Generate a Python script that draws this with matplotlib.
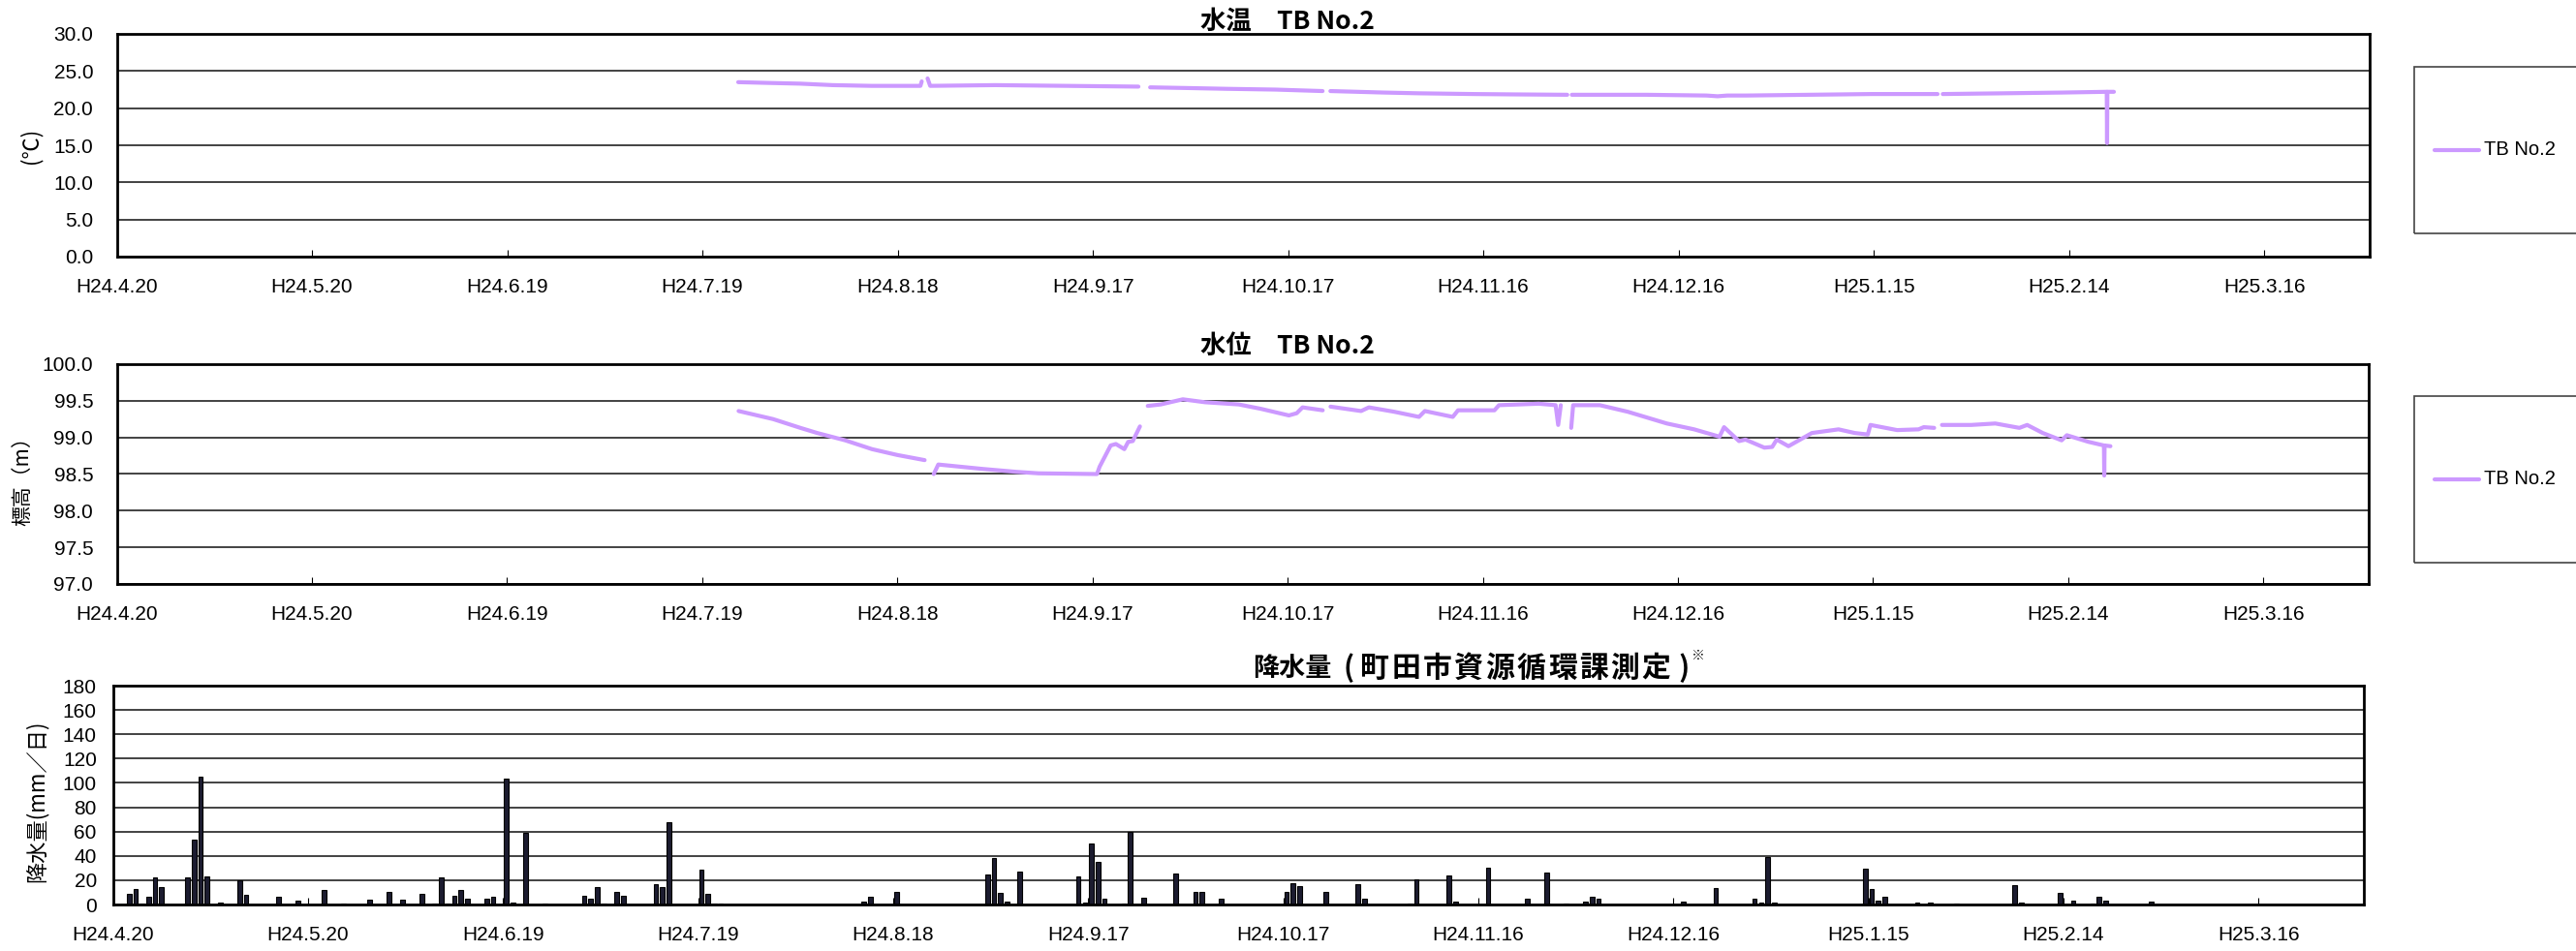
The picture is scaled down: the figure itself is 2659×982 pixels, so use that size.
import numpy as np
import matplotlib
matplotlib.use("Agg")
import matplotlib.pyplot as plt
from matplotlib.patches import Rectangle
from matplotlib.lines import Line2D

W, H = 2659, 982
nan = np.nan

# x axis: days counted from H24.4.20 (2012-04-20)
tick_days = [0, 30, 60, 90, 120, 150, 180, 210, 240, 270, 300, 330]
tick_labels = ["H24.4.20", "H24.5.20", "H24.6.19", "H24.7.19", "H24.8.18", "H24.9.17",
               "H24.10.17", "H24.11.16", "H24.12.16", "H25.1.15", "H25.2.14", "H25.3.16"]
x_end = 346.2

# water temperature TB No.2 (deg C), nan = missing record
temp_day = [95.5, 100, 105, 110, 116, 123.5, 123.7, nan, 124.6, 125.0, 135, 146, 157, nan,
            158.8, 165, 170.7, 178, 185.3, nan, 186.5, 194.7, 200, 208.4, 215, 222.9, nan,
            223.6, 235, 244.3, 246, 247.5, 250.4, 260, 269.6, 279.8, nan,
            280.6, 290, 299, 305.8, 305.85, 305.9, 306.9]
temp_val = [23.5, 23.4, 23.3, 23.1, 23.0, 23.0, 23.6, nan, 24.0, 23.0, 23.1, 23.0, 22.9, nan,
            22.8, 22.7, 22.6, 22.5, 22.3, nan, 22.3, 22.1, 22.0, 21.9, 21.85, 21.8, nan,
            21.8, 21.8, 21.7, 21.6, 21.7, 21.7, 21.8, 21.9, 21.9, nan,
            21.9, 22.0, 22.1, 22.2, 15.3, 22.2, 22.2]

# groundwater level TB No.2 (m above sea level)
level_day = [95.6, 100.9, 105.1, 107.7, 112, 116.1, 120, 124.2, nan,
             125.6, 126.3, 133.1, 138.3, 141.7, 150.7, 151.1, 152.8, 153.6, 154.9, 155.5, 156.2, 157.3, nan,
             158.5, 160.5, 163.9, 167.3, 172.5, 175.9, 180.2, 181.4, 182.3, 185.4, nan,
             186.6, 191.3, 192.5, 196.4, 200.2, 201.1, 205.4, 206.2, 211.8, 212.5, 218.6,
             221.2, 221.6, 222.0, nan,
             223.6, 223.9, 228.0, 232.3, 238.3, 242.5, 246.4, 247.1, 249.4, 250.4, 253.3, 254.5,
             255.2, 257.0, 260.6, 264.7, 267.2, 269.2, 269.6, 273.7, 277.0, 277.8, 279.4, nan,
             280.6, 285.1, 288.8, 292.5, 293.7, 296.1, 299.0, 299.8, 303.1, 305.5, 305.55, 305.6, 306.5]
level_val = [99.36, 99.25, 99.13, 99.06, 98.96, 98.84, 98.76, 98.69, nan,
             98.50, 98.63, 98.57, 98.53, 98.51, 98.50, 98.60, 98.89, 98.91, 98.84, 98.94, 98.95, 99.15, nan,
             99.43, 99.45, 99.52, 99.48, 99.45, 99.39, 99.30, 99.33, 99.41, 99.37, nan,
             99.42, 99.36, 99.41, 99.35, 99.28, 99.36, 99.28, 99.37, 99.37, 99.44, 99.46,
             99.44, 99.17, 99.44, nan,
             99.13, 99.44, 99.44, 99.35, 99.19, 99.11, 99.01, 99.14, 98.95, 98.97, 98.86, 98.87,
             98.97, 98.88, 99.06, 99.11, 99.06, 99.04, 99.17, 99.10, 99.11, 99.14, 99.13, nan,
             99.17, 99.17, 99.19, 99.13, 99.17, 99.06, 98.96, 99.03, 98.94, 98.89, 98.48, 98.89, 98.88]

# daily rainfall (mm/day)
rain_day = [2, 3, 4, 5, 6, 7, 11, 12, 13, 14, 16, 19, 20, 25, 28, 32, 35, 39, 42, 44, 47, 49, 50,
            51, 52, 53, 54, 57, 58, 60, 61, 63, 66, 72, 73, 74, 75, 77, 78, 83, 84, 85, 90, 91, 92,
            93, 115, 116, 120, 134, 135, 136, 137, 139, 148, 149, 150, 151, 152, 155, 156, 158, 163,
            166, 167, 170, 180, 181, 182, 186, 191, 192, 199, 200, 205, 206, 211, 217, 220, 223,
            226, 227, 228, 241, 246, 252, 253, 254, 255, 269, 270, 271, 272, 277, 279, 283, 292,
            293, 299, 301, 304, 305, 306, 313]
rain_mm = [9, 12.5, 1, 6.6, 22, 14.5, 22, 53, 105.5, 23, 1.5, 20, 8, 6, 3.5, 12, 1, 4, 10, 4, 8.5,
           1, 22, 1, 7, 12, 4.5, 4.5, 6, 103.5, 1.5, 59, 1, 7.5, 4.5, 14.5, 1, 10, 7, 17, 14, 67.5,
           28.5, 8.5, 1, 1, 2, 6, 10.5, 25, 38, 9.5, 2.5, 27, 23, 1.5, 50, 35, 4.5, 1, 60, 5.5,
           25.5, 10, 10, 5, 10.5, 17.5, 15, 10, 16.5, 4.5, 1, 21, 24, 2, 30, 4.5, 26.5, 1, 2.5,
           6, 4.5, 2.5, 13.5, 4.5, 1.5, 39, 1.5, 29.5, 12.5, 3.5, 6, 1.5, 1.5, 1, 16, 1.5, 9.5, 3,
           1, 6.5, 3, 2.5]

temp_ticks = [0, 5, 10, 15, 20, 25, 30]
level_ticks = [97.0, 97.5, 98.0, 98.5, 99.0, 99.5, 100.0]
rain_ticks = [0, 20, 40, 60, 80, 100, 120, 140, 160, 180]

LINE_COLOR = "#CC99FF"
CJK = ["Noto Sans CJK JP", "DejaVu Sans"]
TICK_FONT = "Liberation Sans"

fig = plt.figure(figsize=(W / 100, H / 100), dpi=100)


def px_axes(l, t, r, b):
    return fig.add_axes([l / W, 1 - b / H, (r - l) / W, (b - t) / H])


def px_text(x, y, s, **kw):
    return fig.text(x / W, 1 - y / H, s, **kw)


def style(ax, yticks, fmt, ypad, xshift=0.0):
    ax.set_ylim(yticks[0], yticks[-1])
    ax.set_yticks(yticks)
    ax.set_yticklabels([fmt.format(v) for v in yticks], fontfamily=TICK_FONT, fontsize=15)
    ax.set_xlim(0 + xshift, x_end + xshift)
    ax.set_xticks([d + xshift for d in tick_days])
    ax.set_xticklabels(tick_labels, fontfamily=TICK_FONT, fontsize=15)
    ax.yaxis.grid(True, color="#222222", lw=1.2)
    ax.set_axisbelow(True)
    ax.tick_params(axis="y", length=0, pad=ypad)
    ax.tick_params(axis="x", direction="in", length=5, width=0.8, pad=16)
    for s in ax.spines.values():
        s.set_linewidth(2.0)
        s.set_color("black")


def legend_box(top, bottom):
    yc = (top + bottom) / 2
    fig.patches.append(Rectangle((2492 / W, 1 - bottom / H), 200 / W, (bottom - top) / H,
                                 transform=fig.transFigure, fill=False,
                                 edgecolor="#444444", lw=1.2))
    fig.lines.append(Line2D([2513 / W, 2559 / W], [1 - yc / H, 1 - yc / H],
                           transform=fig.transFigure, color=LINE_COLOR, lw=3,
                           solid_capstyle="round"))
    px_text(2564, yc, "TB No.2", fontfamily=TICK_FONT, fontsize=14.5, va="center", ha="left")


# water temperature
ax1 = px_axes(120.5, 35, 2446, 265)
ax1.plot(temp_day, temp_val, color=LINE_COLOR, lw=3, solid_capstyle="round")
style(ax1, temp_ticks, "{:.1f}", 17.5)
px_text(1329, 22, "水温　TB No.2", family=CJK, fontweight="bold", fontsize=19,
        ha="center", va="center")
px_text(32, 150, "(℃)", family=CJK, fontsize=16, rotation=90, ha="center", va="center")
legend_box(69, 241)

# water level
ax2 = px_axes(120.5, 376, 2445, 603)
ax2.plot(level_day, level_val, color=LINE_COLOR, lw=3, solid_capstyle="round")
style(ax2, level_ticks, "{:.1f}", 17.5)
px_text(1329, 357, "水位　TB No.2", family=CJK, fontweight="bold", fontsize=19,
        ha="center", va="center")
px_text(23, 492, "標高（m）", family=CJK, fontsize=15, rotation=90, ha="center", va="center")
legend_box(409, 581)

# rainfall
ax3 = px_axes(116.5, 708, 2440, 934)
ax3.bar(rain_day, rain_mm, width=0.7, color="#1c1c30", edgecolor="black", lw=0.8)
style(ax3, rain_ticks, "{:d}", 12, xshift=-0.5)

# title of the rainfall panel: the bracketed source is set larger, one glyph per cell
title_kw = dict(family=CJK, fontweight="bold", va="center")
px_text(1293, 690, "降水量", ha="left", fontsize=19.5, **title_kw)
px_text(1392, 690, "(", ha="center", fontsize=21.5, **title_kw)
for i, ch in enumerate("町田市資源循環課測定"):
    px_text(1419 + 32.3 * i, 690, ch, ha="center", fontsize=21.5, **title_kw)
px_text(1738, 690, ")", ha="center", fontsize=21.5, **title_kw)
px_text(1753, 677, "※", family=CJK, fontweight="bold", fontsize=10, ha="center", va="center")

px_text(38, 827, "降水量(mm／日)", family=CJK, fontsize=16, rotation=90, ha="center", va="center")

fig.savefig("out.png", dpi=100)
